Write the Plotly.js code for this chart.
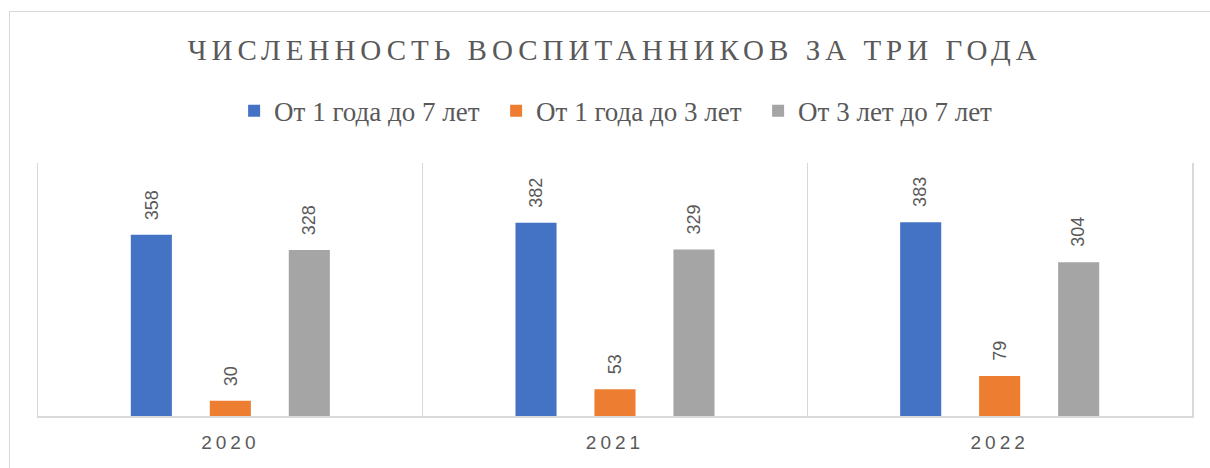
<!DOCTYPE html>
<html>
<head>
<meta charset="utf-8">
<script src="https://cdn.plot.ly/plotly-3.0.1.min.js"></script>
<style>
  html, body { margin: 0; padding: 0; background: #ffffff; }
  #wrap { position: relative; width: 1210px; height: 468px; overflow: hidden; }
  #chart { width: 1210px; height: 468px; }
  #frame { position: absolute; left: 9px; top: 11px; width: 1300px; height: 600px;
           border: 1.5px solid #d9d9d9; pointer-events: none; box-sizing: border-box; }
  .gtitle { letter-spacing: 5px; }
  .xtick text { letter-spacing: 4px; }
</style>
</head>
<body>
<div id="wrap">
  <div id="chart"></div>
  <div id="frame"></div>
</div>
<script>
const titleText = "ЧИСЛЕННОСТЬ ВОСПИТАННИКОВ ЗА ТРИ ГОДА";
const years = ["2020", "2021", "2022"];
const seriesNames = ["От 1 года до 7 лет", "От 1 года до 3 лет", "От 3 лет до 7 лет"];
const total1to7 = [358, 382, 383];
const age1to3 = [30, 53, 79];
const age3to7 = [328, 329, 304];
const colors = ["#4472c4", "#ed7d31", "#a5a5a5"];

const seriesValues = [total1to7, age1to3, age3to7];

const traces = seriesValues.map((vals, i) => ({
  type: "bar",
  name: seriesNames[i],
  x: years,
  y: vals,
  marker: { color: colors[i] },
  hoverinfo: "skip"
}));

const nS = seriesValues.length;
const bargap = 0.384;
const groupW = 1 - bargap;
const annotations = [];
seriesValues.forEach((vals, i) => {
  vals.forEach((v, j) => {
    const off = -groupW / 2 + groupW / nS * (i + 0.5);
    annotations.push({
      x: j + off, y: v, xref: "x", yref: "y",
      text: String(v), showarrow: false, textangle: -90,
      xanchor: "center", yanchor: "bottom", yshift: 13,
      font: { family: "Liberation Sans, Arial, sans-serif", size: 18, color: "#595959" }
    });
  });
});

const layout = {
  width: 1210, height: 468,
  margin: { l: 38, r: 18, t: 163, b: 52 },
  paper_bgcolor: "#ffffff", plot_bgcolor: "#ffffff",
  title: {
    text: titleText,
    x: 0.508, xanchor: "center", y: 0.893, yanchor: "middle",
    font: { family: "Liberation Serif, Times New Roman, serif", size: 29, color: "#595959" }
  },
  showlegend: true,
  legend: {
    orientation: "h", x: 0.5105, xanchor: "center", y: 1.205, yanchor: "middle",
    font: { family: "Liberation Serif, Times New Roman, serif", size: 27, color: "#595959" },
    entrywidth: 217, entrywidthmode: "pixels",
    itemclick: false, itemdoubleclick: false, traceorder: "normal"
  },
  barmode: "group",
  bargap: bargap,
  bargroupgap: 0.48,
  xaxis: {
    type: "category",
    tickson: "boundaries",
    showgrid: true, gridcolor: "#d9d9d9", gridwidth: 1.5,
    showline: true, linecolor: "#d9d9d9", linewidth: 1.5,
    ticks: "", ticklen: 0, ticklabelstandoff: 9,
    tickfont: { family: "Liberation Sans, Arial, sans-serif", size: 19, color: "#595959" },
    fixedrange: true
  },
  yaxis: {
    range: [0, 500],
    showgrid: false, zeroline: false,
    showticklabels: false, ticks: "",
    showline: true, mirror: true, linecolor: "#d9d9d9", linewidth: 1.5,
    fixedrange: true
  },
  annotations: annotations
};

Plotly.newPlot("chart", traces, layout, { displayModeBar: false, staticPlot: true });
</script>
</body>
</html>
